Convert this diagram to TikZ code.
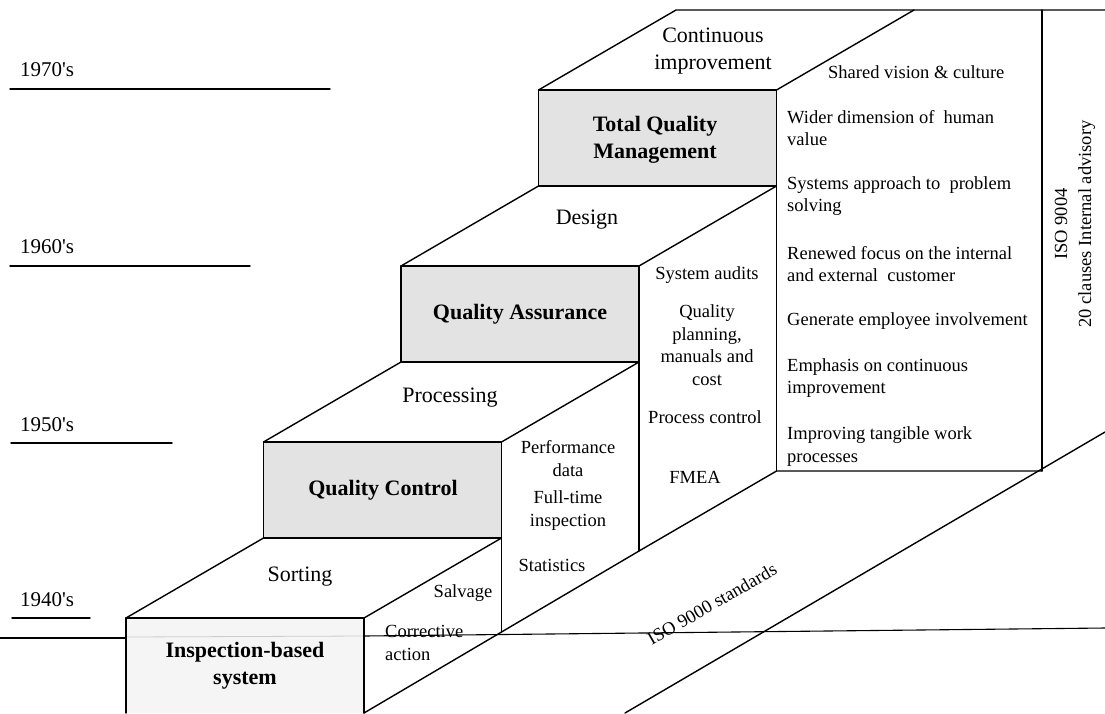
\documentclass[tikz,border=0pt]{standalone}
\usepackage{fontspec}
\setmainfont{Liberation Serif}
\begin{document}
\begin{tikzpicture}[x=1pt,y=-1pt,
  edge/.style={line width=1.4pt, line join=round, line cap=round},
  thinline/.style={line width=1.1pt},
  face/.style={fill=black!11},
  lightface/.style={fill=black!4},
  big/.style={font=\fontsize{22}{27}\selectfont, align=center, inner sep=0pt},
  bigb/.style={font=\fontsize{22}{27}\selectfont\bfseries, align=center, inner sep=0pt},
  small/.style={font=\fontsize{18.5}{22.5}\selectfont, align=center, inner sep=0pt},
  smallL/.style={font=\fontsize{18.5}{22.5}\selectfont, align=left, anchor=west, inner sep=0pt},
  yr/.style={font=\fontsize{21}{25}\selectfont, anchor=west, inner sep=0pt}]
\useasboundingbox (0,0) rectangle (1105,713);

% front faces
\fill[lightface] (126,618) rectangle (364,713);
\draw[black!20, line width=0.8pt] (126,637) -- (364,636);
\draw[edge] (126,713) -- (126,618) -- (364,618) -- (364,713);
\filldraw[edge,face] (263.5,442) rectangle (501.5,538);
\filldraw[edge,face] (401,266) rectangle (639,362);
\filldraw[edge,face] (538.5,90) rectangle (776.5,186);

% top faces
\draw[edge] (126,618) -- (263.5,538);
\draw[edge] (364,618) -- (501.5,538);
\draw[edge] (263.5,442) -- (401,362);
\draw[edge] (501.5,442) -- (639,362);
\draw[edge] (401,266) -- (538.5,186);
\draw[edge] (639,266) -- (776.5,186);
\draw[edge] (538.5,90) -- (676,10) -- (1105,10);
\draw[edge] (776.5,90) -- (914,10);

% verticals of side faces
\draw[edge] (501.5,538) -- (501.5,632);
\draw[edge] (639,362) -- (639,551);
\draw[edge] (776.5,186) -- (776.5,471);
\draw[edge] (1042,10) -- (1042,471);

% ground and right slant
\draw[edge] (364,713) -- (501.5,632) -- (639,551) -- (776.5,471) -- (1042,471);
\draw[edge] (1105,432) -- (625,713);

% long horizontal line
\draw[thinline] (0,638) -- (126,638);
\draw[thinline] (364,636) -- (1105,628);

% year lines
\draw[edge] (10,89) -- (330,89);
\draw[edge] (10,266) -- (250,266);
\draw[edge] (11,443) -- (172,443);
\draw[edge] (12,618) -- (90,618);
\node[yr] (y70) at (20,70) {1970\textquotesingle s};
\node[yr] (y60) at (20,247) {1960\textquotesingle s};
\node[yr] (y50) at (20,425) {1950\textquotesingle s};
\node[yr] (y40) at (20,600) {1940\textquotesingle s};

% step labels
\node[big] (cont) at (713,51.5) {Continuous\\improvement};
\node[bigb] (tqm) at (655,139.5) {Total Quality\\Management};
\node[big] (design) at (587,220) {Design};
\node[bigb] (qa) at (520,314) {Quality Assurance};
\node[big] (proc) at (450,398) {Processing};
\node[bigb] (qc) at (383,490) {Quality Control};
\node[big] (sort) at (300,577) {Sorting};
\node[bigb] (ib) at (245,665.5) {Inspection-based\\system};

% side labels
\node[small] (salv) at (463,593) {Salvage};
\node[smallL] (corr) at (385,643) {Corrective\\action};
\node[small] (perf) at (568,458.5) {Performance\\data};
\node[small] (full) at (568,510.5) {Full-time\\inspection};
\node[small] (stat) at (552,565) {Statistics};
\node[small] (audit) at (707,275) {System audits};
\node[small] (qplan) at (707,345) {Quality\\planning,\\manuals and\\cost};
\node[small] (pctrl) at (705,417) {Process control};
\node[small] (fmea) at (695,477) {FMEA};

% right panel
\node[smallL] (shared) at (828,72) {Shared vision \& culture};
\node[smallL] (wider) at (787,128) {Wider dimension of\ \ human\\value};
\node[smallL] (sysap) at (787,196) {Systems approach to\ \ problem\\solving};
\node[smallL] (renew) at (787,264) {Renewed focus on the internal\\and external\ \ customer};
\node[smallL] (gen) at (787,321) {Generate employee involvement};
\node[smallL] (emph) at (787,378) {Emphasis on continuous\\improvement};
\node[smallL] (impr) at (787,446.5) {Improving tangible work\\processes};

% ISO labels
\node[small, rotate=30] (iso9000) at (712,604) {ISO 9000 standards};
\node[small, rotate=90, font=\fontsize{18.5}{24}\selectfont] (iso9004) at (1075,224) {ISO 9004\\20 clauses Internal advisory};
\end{tikzpicture}
\end{document}
